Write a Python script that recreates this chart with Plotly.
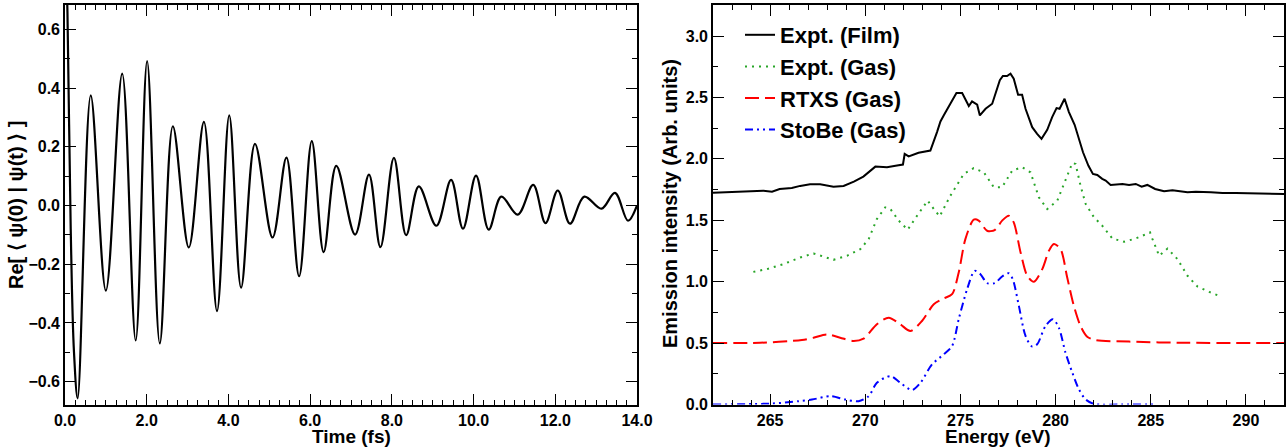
import plotly.graph_objects as go

# ---------------- Left panel: autocorrelation ----------------
time_fs = [0.00, 0.06, 0.14, 0.22, 0.31, 0.63, 1.00, 1.40, 1.73, 2.01, 2.32, 2.64, 3.03, 3.40,
           3.72, 4.02, 4.31, 4.65, 5.08, 5.42, 5.73, 6.04, 6.33, 6.64, 7.10, 7.44, 7.72, 8.05,
           8.35, 8.66, 9.09, 9.45, 9.74, 10.06, 10.37, 10.68, 11.08, 11.46, 11.76, 12.06, 12.36,
           12.71, 13.13, 13.46, 13.78, 14.00]
re_overlap = [1.00, 0.66, -0.08, -0.50, -0.657, 0.375, -0.29, 0.449, -0.46, 0.492, -0.47, 0.27,
              -0.143, 0.285, -0.36, 0.307, -0.28, 0.21, -0.109, 0.163, -0.241, 0.219, -0.159,
              0.135, -0.099, 0.105, -0.142, 0.162, -0.101, 0.065, -0.069, 0.087, -0.079, 0.102,
              -0.082, 0.03, -0.031, 0.07, -0.06, 0.051, -0.062, 0.03, -0.011, 0.043, -0.052, 0.0]

# ---------------- Right panel: emission spectra ----------------
film_e = [262.0, 264.12, 264.65, 265.1, 265.5, 266.14, 266.58, 267.1, 267.63, 268.33, 268.86,
          269.4, 269.9, 270.53, 271.14, 271.67, 271.98, 272.07, 272.28, 272.8, 273.42, 273.77,
          273.95, 274.12, 274.39, 274.79, 275.09, 275.44, 275.61, 275.88, 276.02, 276.32,
          276.67, 277.07, 277.23, 277.45, 277.63, 277.8, 278.03, 278.24, 278.42, 278.77,
          279.03, 279.26, 279.56, 279.82, 280.05, 280.21, 280.47, 280.7, 281.0, 281.23,
          281.44, 281.72, 281.96, 282.19, 282.45, 282.63, 282.89, 283.51, 283.86, 284.21,
          284.52, 284.82, 285.23, 285.7, 286.14, 286.93, 287.37, 288.16, 288.77, 289.47,
          290.52, 292.0]
film_i = [1.725, 1.733, 1.74, 1.733, 1.755, 1.763, 1.78, 1.793, 1.793, 1.774, 1.78, 1.815, 1.856,
          1.937, 1.932, 1.946, 1.954, 2.04, 2.02, 2.05, 2.068, 2.218, 2.305, 2.354, 2.43, 2.536,
          2.536, 2.43, 2.468, 2.441, 2.354, 2.408, 2.449, 2.64, 2.675, 2.675, 2.694, 2.653,
          2.522, 2.522, 2.408, 2.258, 2.204, 2.163, 2.237, 2.34, 2.414, 2.408, 2.49, 2.381,
          2.278, 2.15, 2.054, 1.946, 1.878, 1.869, 1.837, 1.823, 1.788, 1.796, 1.788, 1.796,
          1.774, 1.788, 1.755, 1.736, 1.744, 1.728, 1.733, 1.728, 1.722, 1.722, 1.72, 1.714]

gas_e = [264.12, 264.83, 265.7, 266.58, 267.28, 267.81, 268.33, 269.04, 269.74, 270.18, 270.61,
         271.05, 271.32, 271.76, 272.23, 272.72, 273.28, 273.6, 273.91, 274.47, 275.18, 275.7,
         276.23, 276.75, 277.19, 277.72, 278.24, 278.68, 279.12, 279.56, 280.09, 280.44,
         280.88, 281.05, 281.31, 281.58, 282.02, 282.45, 282.98, 283.6, 284.21, 284.65,
         284.96, 285.09, 285.44, 285.88, 286.4, 286.93, 287.45, 288.07, 288.68]
gas_i = [1.08, 1.102, 1.143, 1.197, 1.23, 1.205, 1.178, 1.211, 1.265, 1.347, 1.51, 1.605, 1.592,
         1.497, 1.423, 1.537, 1.66, 1.592, 1.532, 1.70, 1.878, 1.924, 1.891, 1.769, 1.769,
         1.905, 1.932, 1.891, 1.687, 1.592, 1.66, 1.796, 1.967, 1.959, 1.782, 1.633, 1.524,
         1.456, 1.352, 1.325, 1.352, 1.38, 1.401, 1.347, 1.211, 1.27, 1.184, 1.048, 0.961,
         0.917, 0.879]

rtxs_e = [262.0, 264.47, 266.67, 267.28, 267.98, 268.68, 269.39, 269.91, 270.61, 271.23, 271.84,
          272.37, 272.98, 273.6, 274.12, 274.56, 274.91, 275.26, 275.7, 275.96, 276.4, 276.8,
          277.19, 277.54, 277.8, 278.16, 278.51, 278.86, 279.3, 279.65, 279.91, 280.26, 280.61,
          280.96, 281.31, 281.66, 282.1, 283.86, 286.49, 292.0]
rtxs_i = [0.50, 0.503, 0.525, 0.544, 0.571, 0.544, 0.517, 0.536, 0.653, 0.707, 0.653, 0.599,
          0.68, 0.816, 0.863, 0.898, 1.075, 1.347, 1.505, 1.497, 1.415, 1.42, 1.497, 1.537,
          1.483, 1.238, 1.048, 0.999, 1.102, 1.252, 1.306, 1.265, 1.034, 0.803, 0.639, 0.552,
          0.525, 0.512, 0.503, 0.50]

stobe_e = [262.0, 265.1, 266.51, 267.2, 268.18, 268.96, 269.65, 270.18, 270.61, 271.32, 271.84,
           272.46, 272.9, 273.51, 274.12, 274.56, 274.91, 275.35, 275.75, 276.05, 276.4, 276.8,
           277.19, 277.54, 277.75, 278.07, 278.42, 278.77, 279.03, 279.47, 279.86, 280.17,
           280.52, 280.88, 281.23, 281.58, 282.02, 283.5, 285.3]
stobe_i = [0.0, 0.008, 0.027, 0.04, 0.068, 0.04, 0.027, 0.068, 0.177, 0.231, 0.177, 0.117,
           0.177, 0.327, 0.408, 0.476, 0.694, 0.939, 1.088, 1.061, 0.988, 0.988, 1.042, 1.069,
           1.02, 0.803, 0.558, 0.471, 0.49, 0.639, 0.694, 0.626, 0.422, 0.259, 0.122, 0.041,
           0.005, 0.0, 0.0]

left_xticks = [0, 2, 4, 6, 8, 10, 12, 14]
left_yticks = [-0.6, -0.4, -0.2, 0.0, 0.2, 0.4, 0.6]
right_xticks = [265, 270, 275, 280, 285, 290]
right_yticks = [0.0, 0.5, 1.0, 1.5, 2.0, 2.5, 3.0]

W, H = 1286, 447
FONT = "Liberation Sans, Arial, sans-serif"

fig = go.Figure()

fig.add_trace(go.Scatter(x=time_fs, y=re_overlap, mode="lines", xaxis="x", yaxis="y",
                         line=dict(color="black", width=2.2, shape="spline", smoothing=1.0),
                         showlegend=False))

fig.add_trace(go.Scatter(x=film_e, y=film_i, mode="lines", xaxis="x2", yaxis="y2",
                         name="Expt. (Film)", line=dict(color="black", width=2)))
fig.add_trace(go.Scatter(x=gas_e, y=gas_i, mode="lines", xaxis="x2", yaxis="y2",
                         name="Expt. (Gas)",
                         line=dict(color="rgb(40,165,40)", width=2, dash="2px,5px")))
fig.add_trace(go.Scatter(x=rtxs_e, y=rtxs_i, mode="lines", xaxis="x2", yaxis="y2",
                         name="RTXS (Gas)",
                         line=dict(color="red", width=2, dash="14px,6px", shape="spline",
                                   smoothing=0.8)))
fig.add_trace(go.Scatter(x=stobe_e, y=stobe_i, mode="lines", xaxis="x2", yaxis="y2",
                         name="StoBe (Gas)",
                         line=dict(color="blue", width=2, dash="8px,4px,2px,4px,2px,4px",
                                   shape="spline", smoothing=0.8)))

ydom = [(H - 404.5) / H, (H - 5) / H]
tickfont = dict(family=FONT, size=16, color="black", weight="bold")
common = dict(showline=True, linecolor="black", linewidth=1.6, mirror="allticks",
              ticks="inside", ticklen=11, tickwidth=1.3, tickcolor="black",
              showgrid=False, zeroline=False, tickfont=tickfont, automargin=False)
minor_style = dict(ticklen=5, ticks="inside", tickcolor="black", tickwidth=1.2)
title_font = dict(family=FONT, size=20, weight="bold", color="black")
xtitle_font = dict(family=FONT, size=19, weight="bold", color="black")

fig.update_layout(
    width=W, height=H,
    margin=dict(l=0, r=0, t=0, b=0),
    paper_bgcolor="white", plot_bgcolor="white",
    font=dict(family=FONT, color="black"),
    xaxis=dict(domain=[65 / W, 637 / W], range=[0, 14], tickvals=left_xticks,
               tickformat=".1f", anchor="y", minor=dict(dtick=0.25, **minor_style), **common),
    yaxis=dict(domain=ydom, range=[-0.678, 0.683], tickvals=left_yticks, tickformat=".1f",
               anchor="x", minor=dict(dtick=0.1, **minor_style), **common),
    xaxis2=dict(domain=[713 / W, 1284 / W], range=[262, 292], tickvals=right_xticks,
                anchor="y2", minor=dict(dtick=1, **minor_style), **common),
    yaxis2=dict(domain=ydom, range=[0, 3.253], tickvals=right_yticks, tickformat=".1f",
                anchor="x2", minor=dict(dtick=0.25, **minor_style), **common),
    legend=dict(x=740 / W, y=1 - 14 / H, xanchor="left", yanchor="top",
                bgcolor="rgba(0,0,0,0)", borderwidth=0,
                font=dict(family=FONT, size=22, color="black", weight="bold"),
                tracegroupgap=0),
    annotations=[
        dict(text="Time (fs)", x=351 / W, y=1 - 436 / H, xref="paper", yref="paper",
             xanchor="center", yanchor="middle", showarrow=False, font=xtitle_font),
        dict(text="Energy (eV)", x=998 / W, y=1 - 436 / H, xref="paper", yref="paper",
             xanchor="center", yanchor="middle", showarrow=False, font=xtitle_font),
        dict(text="Re[ \u27e8 \u03c8(0) | \u03c8(t) \u27e9 ]", x=16 / W, y=1 - 205 / H,
             xref="paper", yref="paper", xanchor="center", yanchor="middle",
             showarrow=False, textangle=-90, font=title_font),
        dict(text="Emission intensity (Arb. units)", x=670 / W, y=1 - 204 / H, xref="paper",
             yref="paper", xanchor="center", yanchor="middle", showarrow=False,
             textangle=-90, font=title_font),
    ],
)

fig.write_html("out.html")
